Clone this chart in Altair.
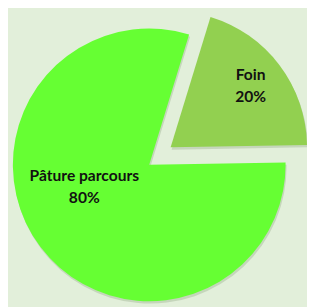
import math
import altair as alt
import pandas as pd

categories = ["Foin", "Pâture parcours"]
values = [20, 80]
labels = ["20%", "80%"]
slice_order = [1, 2]
colors = ["#92D050", "#66FF33"]

df = pd.DataFrame({"cat": categories, "value": values, "pct": labels, "ord": slice_order})

start = math.radians(17)
theta_scale = alt.Scale(domain=[0, 100], range=[start, start + 2 * math.pi])
color_scale = alt.Scale(domain=categories, range=colors)

base = (
    alt.Chart(df)
    .transform_window(cum="sum(value)", sort=[alt.SortField("ord")], frame=[None, 0])
    .transform_calculate(
        t0="datum.cum - datum.value",
        t1="datum.cum",
        mid="datum.cum - datum.value / 2",
        lines="[datum.cat, datum.pct]",
    )
)

R = 140
centers = {"Foin": (167, 139), "Pâture parcours": (145, 157)}
label_r = {"Foin": 99, "Pâture parcours": 86}
label_dx = {"Foin": 3, "Pâture parcours": 2}
label_dy = {"Foin": -14, "Pâture parcours": -40}

layers = []
for cat in categories:
    cx, cy = centers[cat]
    layers.append(
        base.transform_filter(alt.datum.cat == cat)
        .mark_arc(x=cx + 1, y=cy + 2.5, outerRadius=R, color="#6f8a5f", opacity=0.25)
        .encode(theta=alt.Theta("t0:Q", scale=theta_scale), theta2="t1:Q")
    )
for cat in categories:
    cx, cy = centers[cat]
    layers.append(
        base.transform_filter(alt.datum.cat == cat)
        .mark_arc(x=cx, y=cy, outerRadius=R)
        .encode(
            theta=alt.Theta("t0:Q", scale=theta_scale),
            theta2="t1:Q",
            color=alt.Color("cat:N", scale=color_scale, legend=None),
        )
    )
for cat in categories:
    cx, cy = centers[cat]
    layers.append(
        base.transform_filter(alt.datum.cat == cat)
        .mark_text(
            x=cx, y=cy, radius=label_r[cat], dx=label_dx[cat], dy=label_dy[cat],
            font="Lato", fontSize=16, fontWeight="bold", color="#111111",
            lineHeight=22, align="center", baseline="middle",
        )
        .encode(theta=alt.Theta("mid:Q", scale=theta_scale), text="lines:N")
    )

chart = (
    alt.layer(*layers)
    .properties(width=307, height=299, padding=0, autosize=alt.AutoSizeParams(type="none"),
                background="#E2EFDA")
    .configure_view(stroke=None)
)

chart.save("out.html", embed_options={"renderer": "svg", "actions": False})
